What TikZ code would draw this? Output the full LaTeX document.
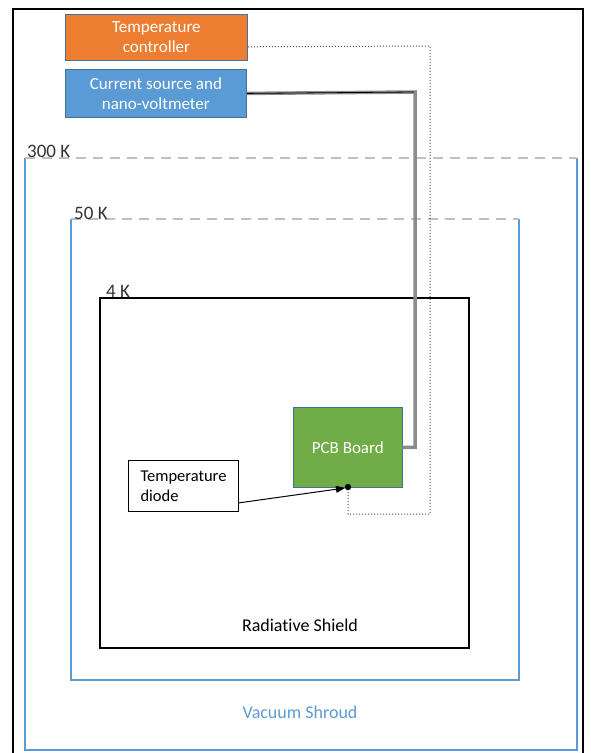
\documentclass[tikz,border=0pt]{standalone}
\usepackage{fontspec}
\setmainfont{Carlito}[Ligatures=NoCommon]
\usetikzlibrary{arrows.meta,calc}
\definecolor{shroud}{HTML}{5B9BD5}
\definecolor{dashgray}{HTML}{BFBFBF}
\definecolor{ctrlorange}{HTML}{ED7D31}
\definecolor{srcblue}{HTML}{5B9BD5}
\definecolor{boxedge}{HTML}{41719C}
\definecolor{pcbgreen}{HTML}{70AD47}
\definecolor{wiregray}{HTML}{8C8C8C}
\begin{document}
\begin{tikzpicture}[x=1pt,y=-1pt,
  instrument/.style={draw=boxedge,line width=0.8pt,text=white,font=\fontsize{17}{20}\selectfont,align=center,anchor=north west,inner sep=0pt},
  solidwall/.style={draw=shroud,line width=2pt},
  dashwall/.style={draw=dashgray,line width=2pt,dash pattern=on 10pt off 7pt},
  templabel/.style={font=\fontsize{19}{20}\selectfont,text=black!80,anchor=south west,inner sep=0pt},
  stagename/.style={font=\fontsize{18}{20}\selectfont},
  wire/.style={draw=wiregray,line width=3.5pt},
  sense/.style={draw=black!70,line width=1pt,dotted}]
\useasboundingbox (0,0) rectangle (591,753);
\begin{scope}
\clip (0,0) rectangle (591,753);
% outer frame
\draw[line width=2pt] (13,760) -- (13,9) -- (583,9) -- (583,760);

% 300 K stage (vacuum shroud)
\draw[solidwall] (25,158) -- (25,750) -- (577,750) -- (577,158);
\draw[dashwall] (25,158) -- (577,158);
\node[templabel] (t300) at (27,158) {300 K};

% 50 K stage
\draw[solidwall] (71,219) -- (71,680) -- (519,680) -- (519,219);
\draw[dashwall] (71,219) -- (519,219);
\node[templabel] (t50) at (74,220) {50 K};

% 4 K stage (radiative shield)
\draw[line width=2pt] (100,298) rectangle (469,648);
\node[templabel] (t4) at (106,298) {4 K};

\node[stagename] (rad) at (300,625) {Radiative Shield};
\node[stagename,text=shroud] (vac) at (300,712) {Vacuum Shroud};

% instruments
\node[instrument,fill=ctrlorange,minimum width=182pt,minimum height=46pt] (tc) at (65,14) {Temperature\\controller};
\node[instrument,fill=srcblue,minimum width=181pt,minimum height=48pt] (cs) at (65,69) {Current source and\\nano-voltmeter};

% board and diode
\node[draw=boxedge,line width=0.6pt,fill=pcbgreen,text=white,font=\fontsize{17}{20}\selectfont,minimum width=109pt,minimum height=80pt,anchor=north west,inner sep=0pt] (pcb) at (293,407) {PCB Board};
\node[draw,line width=1pt,fill=white,font=\fontsize{16.5}{20}\selectfont,minimum width=110pt,minimum height=51pt,anchor=north west,inner sep=0pt,align=left] (diode) at (128,460) {Temperature\\ diode};

% sensor point on the board, and line ends
\coordinate (sensor) at (348,487);
\coordinate (diodeout) at (238,503);
\coordinate (tcout) at ($(tc.south east)+(0,-14)$);

% measurement wiring
\draw[wire] (cs.east) -- (415,92) |- (pcb.east);
\draw[line width=0.8pt] (cs.east) -- (414,92);

% temperature controller sense line
\draw[sense] (tcout) -- (430,46) -- (430,514) -- (348,514) -- (sensor);

% diode pointer
\draw[line width=1pt,-{Triangle[length=9pt,width=7pt]}] (diodeout) -- ($(sensor)+(-3,1)$);
\fill (sensor) circle (3.2pt);
\end{scope}
\end{tikzpicture}
\end{document}
